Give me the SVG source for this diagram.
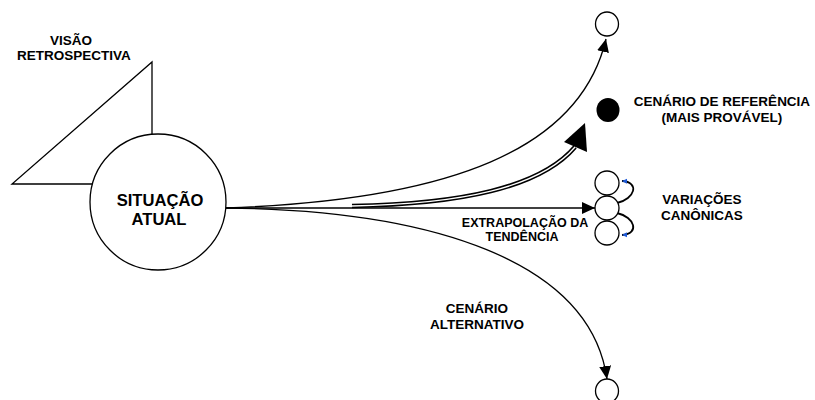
<svg xmlns="http://www.w3.org/2000/svg" width="815" height="400" viewBox="0 0 815 400">
  <style>
    .ln { fill: none; stroke: #000; stroke-width: 1.3; }
    .nd { fill: #fff; stroke: #000; stroke-width: 1.3; }
    .lbl { font-family: "Liberation Sans", Arial, sans-serif; font-weight: bold; font-size: 13.5px; fill: #000; text-anchor: middle; }
    .big { font-size: 16.6px; }
    .sm { font-size: 12.5px; }
  </style>
  <defs>
    <marker id="arr" markerUnits="userSpaceOnUse" markerWidth="14" markerHeight="12" viewBox="0 0 14 12" refX="13" refY="6" orient="auto">
      <path d="M0,0 L13,6 L0,12 Z" fill="#000"/>
    </marker>
    <marker id="sarr" markerUnits="userSpaceOnUse" markerWidth="6" markerHeight="6" viewBox="0 0 6 6" refX="5" refY="3" orient="auto">
      <path d="M0,0.5 L5,3 L0,5.5 Z" fill="#1e5ad8"/>
    </marker>
  </defs>

  <g id="retrospectiva">
    <path class="ln" d="M152,135 L152,62 L12,184 L92,184"/>
    <text class="lbl" x="71" y="45">VISÃO</text>
    <text class="lbl" x="74" y="60">RETROSPECTIVA</text>
  </g>

  <g id="connectors">
    <path class="ln" d="M226,208 C450,200 580,150 606,39" marker-end="url(#arr)"/>
    <path class="ln" d="M226,208 L595,208" marker-end="url(#arr)"/>
    <path class="ln" d="M226,208 C430,210 590,260 607,379" marker-end="url(#arr)"/>
    <path d="M352,206 C460,204 540,188 575,147" fill="none" stroke="#000" stroke-width="4.5"/>
    <path d="M352,206 C460,204 540,188 575,147" fill="none" stroke="#fff" stroke-width="1.3"/>
    <polygon points="585,123 564,142 587,152" fill="#000"/>
    <path d="M617,203 C635,199 640,182 622,181" fill="none" stroke="#000" stroke-width="1.8" marker-end="url(#sarr)"/>
    <path d="M617,213 C635,217 640,234 622,235" fill="none" stroke="#000" stroke-width="1.8" marker-end="url(#sarr)"/>
  </g>

  <g id="situacao-atual">
    <circle class="nd" cx="158" cy="202" r="68"/>
    <text class="lbl big" x="160" y="206">SITUAÇÃO</text>
    <text class="lbl big" x="159" y="225">ATUAL</text>
  </g>

  <g id="cenario-superior">
    <ellipse class="nd" cx="607" cy="24" rx="11.5" ry="12"/>
  </g>

  <g id="cenario-referencia">
    <ellipse cx="608" cy="110" rx="11.5" ry="12" fill="#000"/>
    <text class="lbl" x="722" y="106">CENÁRIO DE REFERÊNCIA</text>
    <text class="lbl" x="722" y="122">(MAIS PROVÁVEL)</text>
  </g>

  <g id="variacoes">
    <circle class="nd" cx="607" cy="183" r="12"/>
    <circle class="nd" cx="607" cy="233" r="12"/>
    <circle class="nd" cx="607" cy="208" r="12"/>
    <text class="lbl" x="702" y="204">VARIAÇÕES</text>
    <text class="lbl" x="702" y="220">CANÔNICAS</text>
  </g>

  <g id="extrapolacao">
    <text class="lbl sm" x="525" y="227">EXTRAPOLAÇÃO DA</text>
    <text class="lbl sm" x="522" y="241">TENDÊNCIA</text>
  </g>

  <g id="cenario-alternativo">
    <ellipse class="nd" cx="607" cy="391" rx="11.5" ry="12"/>
    <text class="lbl" x="477" y="313">CENÁRIO</text>
    <text class="lbl" x="477" y="329">ALTERNATIVO</text>
  </g>
</svg>
